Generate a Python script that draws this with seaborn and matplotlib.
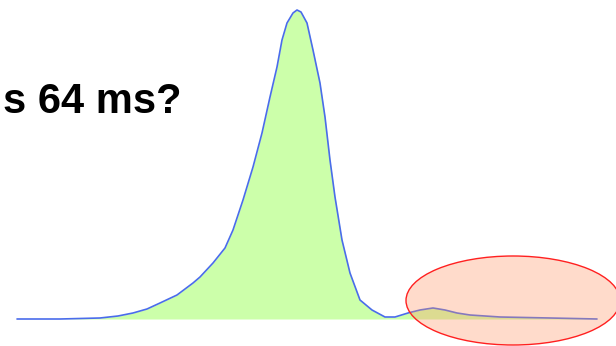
import matplotlib
matplotlib.use("Agg")
import matplotlib.pyplot as plt
import seaborn as sns
import pandas as pd
from matplotlib.patches import Ellipse

# Data (x position, density height)
x_vals = [17, 60, 100, 118, 133, 147, 160, 177, 193, 200, 213, 225, 233, 243, 253,
          262, 270, 277, 282, 287, 293, 297, 301, 307, 313, 320, 325, 330, 335,
          342, 350, 360, 372, 385, 395, 408, 420, 433, 445, 457, 470, 500, 550, 597]
density = [0, 0, 1, 3, 6, 10, 16, 24, 36, 42, 56, 71, 89, 119, 152,
           186, 222, 252, 279, 296, 306, 309, 307, 296, 269, 236, 202, 159, 122,
           79, 46, 19, 9, 2, 2, 6, 9, 11, 9, 6, 4, 2, 1, 0]
title_text = "s 64 ms?"

df = pd.DataFrame({"x": x_vals, "density": density})

sns.set_theme(style="white")
plt.rcParams['font.family'] = ['Liberation Sans', 'DejaVu Sans']

fig = plt.figure(figsize=(6.16, 3.46), dpi=100)
ax = fig.add_axes([0, 0, 1, 1])
ax.fill_between(df["x"], 0, df["density"], color="#CCFFAA", linewidth=0, zorder=1)
sns.lineplot(data=df, x="x", y="density", ax=ax, color="#4A6CEB", linewidth=1.2, zorder=2)

ell = Ellipse((513, 18.5), 214, 89, facecolor=(1.0, 0.58, 0.38, 0.33),
              edgecolor="#FF2020", linewidth=1.0, zorder=3)
ax.add_patch(ell)

ax.text(3, 206, title_text, fontsize=30, fontweight="bold", color="black",
        ha="left", va="baseline")

ax.set_xlim(0, 616)
ax.set_ylim(-27, 319)
ax.axis("off")
fig.savefig("out.png", dpi=100)
